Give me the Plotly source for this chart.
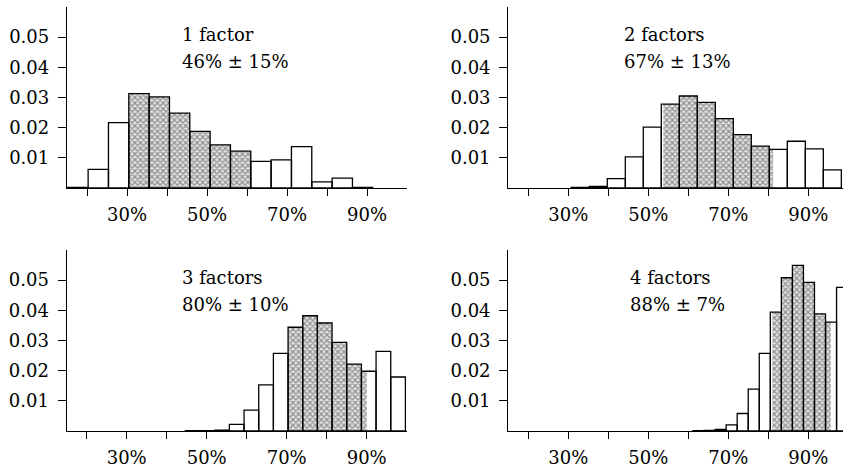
import plotly.graph_objects as go

# ---- data ----
titles = ["1 factor", "2 factors", "3 factors", "4 factors"]
summaries = ["46% ± 15%", "67% ± 13%", "80% ± 10%", "88% ± 7%"]

bin_start = [15.2, 30.75, 44.67, 61.18]
bin_width = [5.083, 4.5, 3.667, 2.76]

heights_1 = [0.0002, 0.0062, 0.0217, 0.0313, 0.0302, 0.0248, 0.0188, 0.0143,
             0.0122, 0.0088, 0.0093, 0.0137, 0.0020, 0.0033, 0.0002]
heights_2 = [0.0002, 0.0005, 0.0031, 0.0103, 0.0202, 0.0278, 0.0305, 0.0284,
             0.0230, 0.0177, 0.0139, 0.0128, 0.0155, 0.0130, 0.0060]
heights_3 = [0.0001, 0.0001, 0.0003, 0.0022, 0.0069, 0.0153, 0.0257, 0.0344,
             0.0382, 0.0358, 0.0294, 0.0222, 0.0198, 0.0264, 0.0179]
heights_4 = [0.0001, 0.0002, 0.0005, 0.0020, 0.0058, 0.0139, 0.0257, 0.0394,
             0.0508, 0.0549, 0.0493, 0.0388, 0.0361, 0.0476]
heights = [heights_1, heights_2, heights_3, heights_4]

hatch_lo = [30.5, 53.75, 70.3, 81.0]
hatch_hi = [61.0, 81.2, 90.0, 95.6]

x_tickvals = [20, 30, 40, 50, 60, 70, 80, 90]
x_ticktext = ["", "30%", "", "50%", "", "70%", "", "90%"]
y_tickvals = [0.01, 0.02, 0.03, 0.04, 0.05]
y_ticktext = ["0.01", "0.02", "0.03", "0.04", "0.05"]

x_ranges = [[15, 100], [15, 98.67], [15, 100], [15, 98.67]]
y_range = [0, 0.06]
label_x = [43.3, 43.3, 43.3, 44.8]
title_y = 0.0510
summary_y = 0.0421

# ---- layout geometry ----
W, H = 843, 471
x_domains = [[67 / W, 407 / W], [508.3 / W, 1.0], [66.7 / W, 406.7 / W], [508.3 / W, 1.0]]
y_domains = [[283 / H, 464 / H], [283 / H, 464 / H], [40 / H, 221 / H], [40 / H, 221 / H]]

FONT = "DejaVu Serif"
FS = 18
LW = 1.3

fig = go.Figure()
layout = dict(
    width=W, height=H, margin=dict(l=0, r=0, t=0, b=0, autoexpand=False),
    paper_bgcolor="white", plot_bgcolor="rgba(0,0,0,0)",
    barmode="overlay", showlegend=False,
    font=dict(family=FONT, size=FS, color="black"),
)

annotations = []
for p in range(4):
    i = p + 1
    xa = "x" if i == 1 else f"x{i}"
    ya = "y" if i == 1 else f"y{i}"
    s, w, h = bin_start[p], bin_width[p], heights[p]
    n = len(h)
    centers = [s + w * (k + 0.5) for k in range(n)]
    widths = [w] * n

    fig.add_trace(go.Bar(x=centers, y=h, width=widths, xaxis=xa, yaxis=ya,
                         marker=dict(color="white", line=dict(width=0)), opacity=1,
                         hoverinfo="skip"))
    hx, hw, hy = [], [], []
    for k in range(n):
        l = s + w * k
        r = l + w
        a = max(l, hatch_lo[p])
        b = min(r, hatch_hi[p])
        if b > a:
            hx.append((a + b) / 2)
            hw.append(b - a)
            hy.append(h[k])
    fig.add_trace(go.Bar(x=hx, y=hy, width=hw, xaxis=xa, yaxis=ya, opacity=1,
                         marker=dict(color="white", line=dict(width=0),
                                     pattern=dict(shape="x", fgcolor="#3a3a3a", bgcolor="#e2e2e2",
                                                  size=4, solidity=0.5)),
                         hoverinfo="skip"))
    fig.add_trace(go.Bar(x=centers, y=h, width=widths, xaxis=xa, yaxis=ya, opacity=1,
                         marker=dict(color="rgba(0,0,0,0)", line=dict(color="black", width=LW)),
                         hoverinfo="skip"))

    xkey = "xaxis" if i == 1 else f"xaxis{i}"
    ykey = "yaxis" if i == 1 else f"yaxis{i}"
    layout[xkey] = dict(domain=x_domains[p], anchor=ya, range=x_ranges[p],
                        showline=True, linecolor="black", linewidth=LW,
                        showgrid=False, zeroline=False, automargin=False,
                        tickmode="array", tickvals=x_tickvals, ticktext=x_ticktext,
                        ticks="outside", ticklen=7, tickwidth=LW, tickcolor="black",
                        ticklabelstandoff=3,
                        tickfont=dict(family=FONT, size=FS, color="black"))
    layout[ykey] = dict(domain=y_domains[p], anchor=xa, range=y_range,
                        showline=True, linecolor="black", linewidth=LW,
                        showgrid=False, zeroline=False, automargin=False,
                        tickmode="array", tickvals=y_tickvals, ticktext=y_ticktext,
                        ticks="outside", ticklen=8, tickwidth=LW, tickcolor="black",
                        ticklabelstandoff=5,
                        tickfont=dict(family=FONT, size=FS, color="black"))
    oi = i + 4
    layout[f"xaxis{oi}"] = dict(overlaying=xa, anchor=ya, side="bottom", range=x_ranges[p],
                                showline=False, showgrid=False, zeroline=False,
                                tickmode="array", tickvals=x_tickvals, showticklabels=False,
                                ticks="inside", ticklen=6, tickwidth=LW, tickcolor="black")
    layout[f"yaxis{oi}"] = dict(overlaying=ya, anchor=xa, side="left", range=y_range,
                                showline=False, showgrid=False, zeroline=False,
                                tickmode="array", tickvals=y_tickvals, showticklabels=False,
                                ticks="inside", ticklen=7, tickwidth=LW, tickcolor="black")

    for txt, yy in ((titles[p], title_y), (summaries[p], summary_y)):
        annotations.append(dict(x=label_x[p], y=yy, xref=xa, yref=ya,
                                xanchor="left", yanchor="middle", align="left", showarrow=False,
                                text=txt, font=dict(family=FONT, size=FS, color="black")))

layout["annotations"] = annotations
fig.update_layout(**layout)
fig.write_html("out.html", config={"displayModeBar": False},
               post_script="document.body.style.margin='0';document.body.style.padding='0';")
